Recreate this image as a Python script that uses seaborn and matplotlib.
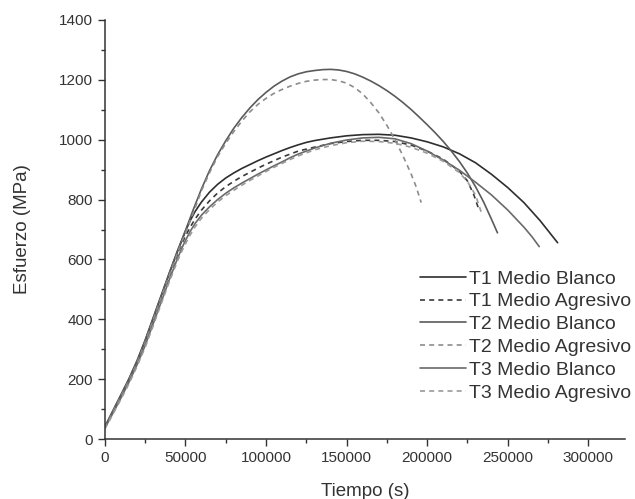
import matplotlib
matplotlib.use("Agg")
import matplotlib.pyplot as plt
import seaborn as sns
import pandas as pd
from matplotlib.ticker import MultipleLocator

# valores (tiempo en s, esfuerzo en MPa)
t1_blanco_x = [0, 5000, 10000, 15000, 20000, 25000, 30000, 35000, 40000, 45000, 48000, 50000,
               53000, 56000, 60000, 65000, 70000, 75000, 80000, 85000, 90000, 95000, 100000,
               105000, 110000, 115000, 120000, 125000, 130000, 140000, 150000, 160000, 170000,
               180000, 190000, 200000, 210000, 220000, 230000, 240000, 250000, 260000, 270000,
               280900]
t1_blanco_y = [40, 92, 146, 200, 260, 328, 403, 478, 553, 625, 666, 694,
               730, 760, 792, 825, 851, 872, 889, 904, 917, 930, 942,
               953, 964, 974, 983, 991, 997, 1006, 1013, 1017, 1018,
               1015, 1006, 993, 976, 953, 923, 884, 840, 790, 730,
               656]

t1_agresivo_x = [0, 5000, 10000, 15000, 20000, 25000, 30000, 35000, 40000, 45000, 48000, 50000,
                 53000, 56000, 60000, 65000, 70000, 75000, 80000, 85000, 90000, 95000, 100000,
                 105000, 110000, 115000, 120000, 130000, 140000, 150000, 160000, 170000, 180000,
                 190000, 200000, 210000, 220000, 225000, 229000, 232200]
t1_agresivo_y = [38, 89, 142, 195, 254, 320, 395, 470, 545, 616, 655, 678,
                 708, 735, 765, 796, 822, 843, 861, 877, 891, 905, 918,
                 930, 942, 952, 962, 975, 987, 994, 998, 998, 994,
                 982, 962, 935, 895, 862, 815, 765]

t2_blanco_x = [0, 5000, 10000, 15000, 20000, 25000, 30000, 35000, 40000, 45000, 50000, 55000,
               60000, 65000, 70000, 75000, 80000, 85000, 90000, 95000, 100000, 105000, 110000,
               115000, 120000, 125000, 130000, 135000, 140000, 145000, 150000, 155000, 160000,
               165000, 170000, 175000, 180000, 185000, 190000, 195000, 200000, 205000, 210000,
               215000, 220000, 225000, 230000, 235000, 240000, 243600]
t2_blanco_y = [41, 95, 148, 202, 262, 330, 405, 480, 555, 628, 696, 768,
               836, 897, 950, 996, 1038, 1074, 1106, 1134, 1158, 1179, 1196,
               1210, 1220, 1227, 1231, 1234, 1235, 1233, 1228, 1220, 1209,
               1196, 1181, 1164, 1145, 1124, 1101, 1076, 1050, 1023, 994,
               962, 927, 888, 843, 792, 733, 689]

t2_agresivo_x = [0, 5000, 10000, 15000, 20000, 25000, 30000, 35000, 40000, 45000, 50000, 55000,
                 60000, 65000, 70000, 75000, 80000, 85000, 90000, 95000, 100000, 105000, 110000,
                 115000, 120000, 125000, 130000, 135000, 140000, 145000, 150000, 155000, 160000,
                 165000, 170000, 175000, 180000, 185000, 190000, 193000, 196300]
t2_agresivo_y = [38, 90, 143, 196, 255, 322, 397, 472, 547, 620, 688, 757,
                 830, 890, 944, 988, 1027, 1062, 1093, 1118, 1138, 1155, 1168,
                 1179, 1188, 1195, 1199, 1201, 1201, 1197, 1189, 1174, 1153,
                 1124, 1090, 1048, 1000, 946, 886, 845, 790]

t3_blanco_x = [0, 5000, 10000, 15000, 20000, 25000, 30000, 35000, 40000, 45000, 48000, 50000,
               53000, 56000, 60000, 65000, 70000, 75000, 80000, 85000, 90000, 95000, 100000,
               105000, 110000, 115000, 120000, 130000, 140000, 150000, 160000, 170000, 180000,
               190000, 200000, 210000, 220000, 230000, 240000, 250000, 260000, 265000, 269500]
t3_blanco_y = [36, 86, 137, 190, 248, 312, 385, 458, 532, 602, 640, 663,
               694, 720, 748, 776, 800, 821, 839, 855, 870, 885, 899,
               913, 926, 940, 952, 972, 988, 999, 1006, 1008, 1003,
               987, 962, 932, 898, 858, 815, 765, 708, 676, 643]

t3_agresivo_x = [0, 5000, 10000, 15000, 20000, 25000, 30000, 35000, 40000, 45000, 48000, 50000,
                 53000, 56000, 60000, 65000, 70000, 75000, 80000, 85000, 90000, 95000, 100000,
                 105000, 110000, 115000, 120000, 130000, 140000, 150000, 160000, 170000, 180000,
                 190000, 200000, 210000, 220000, 225000, 230000, 234000]
t3_agresivo_y = [34, 83, 133, 185, 243, 306, 378, 452, 525, 594, 630, 652,
                 682, 709, 738, 767, 792, 813, 831, 848, 864, 879, 894,
                 908, 921, 934, 946, 966, 980, 990, 995, 994, 988,
                 975, 955, 928, 890, 860, 815, 750]

series = {
    "T1 Medio Blanco": (t1_blanco_x, t1_blanco_y),
    "T1 Medio Agresivo": (t1_agresivo_x, t1_agresivo_y),
    "T2 Medio Blanco": (t2_blanco_x, t2_blanco_y),
    "T2 Medio Agresivo": (t2_agresivo_x, t2_agresivo_y),
    "T3 Medio Blanco": (t3_blanco_x, t3_blanco_y),
    "T3 Medio Agresivo": (t3_agresivo_x, t3_agresivo_y),
}

rows = []
for name, (xs, ys) in series.items():
    for x, y in zip(xs, ys):
        rows.append({"Tiempo": x, "Esfuerzo": y, "Serie": name})
df = pd.DataFrame(rows)

colores = {
    "T1 Medio Blanco": "#2e2e2e",
    "T1 Medio Agresivo": "#3a3a3a",
    "T2 Medio Blanco": "#5a5a5a",
    "T2 Medio Agresivo": "#8c8c8c",
    "T3 Medio Blanco": "#6a6a6a",
    "T3 Medio Agresivo": "#9a9a9a",
}
trazos = {
    "T1 Medio Blanco": "",
    "T1 Medio Agresivo": (3, 2.5),
    "T2 Medio Blanco": "",
    "T2 Medio Agresivo": (3, 2.5),
    "T3 Medio Blanco": "",
    "T3 Medio Agresivo": (3, 2.5),
}

sns.set_style("ticks")
plt.rcParams["font.family"] = ["Liberation Sans", "DejaVu Sans"]

fig = plt.figure(figsize=(6.35, 4.99), dpi=100)
ax = fig.add_axes([0.165, 0.12, 0.82, 0.84])

sns.lineplot(data=df, x="Tiempo", y="Esfuerzo", hue="Serie", style="Serie",
             palette=colores, dashes=trazos, sort=False, estimator=None,
             linewidth=1.2, ax=ax)

ax.set_xlim(0, 323000)
ax.set_ylim(0, 1400)
ax.xaxis.set_major_locator(MultipleLocator(50000))
ax.xaxis.set_minor_locator(MultipleLocator(25000))
ax.yaxis.set_major_locator(MultipleLocator(200))
ax.yaxis.set_minor_locator(MultipleLocator(100))
ax.tick_params(which="major", length=5, width=1, colors="#333333", labelsize=11,
               labelcolor="#333333")
ax.tick_params(which="minor", length=3, width=1, colors="#333333")
for s in ["left", "bottom"]:
    ax.spines[s].set_color("#333333")
    ax.spines[s].set_linewidth(1.1)
sns.despine(ax=ax)

ax.set_xlabel("Tiempo (s)", fontsize=13.5, color="#333333", labelpad=13)
ax.set_ylabel("Esfuerzo (MPa)", fontsize=13.5, color="#333333", labelpad=20)

handles, labels = ax.get_legend_handles_labels()
leg = ax.legend(handles, labels, loc="upper left", bbox_to_anchor=(0.661, 0.459),
                bbox_transform=fig.transFigure, frameon=False, fontsize=14,
                handlelength=2.4, handletextpad=0.15, labelspacing=0.27,
                borderpad=0, borderaxespad=0)
for t in leg.get_texts():
    t.set_color("#333333")

fig.savefig("out.png", dpi=100)
